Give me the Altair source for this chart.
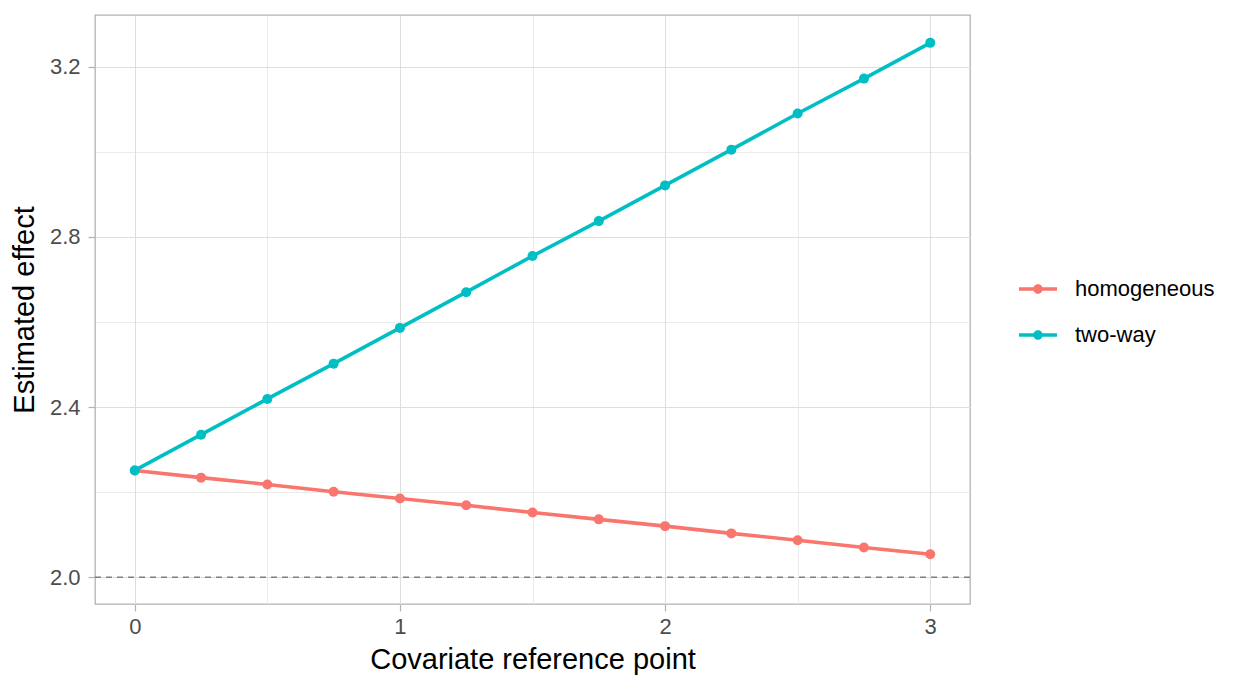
import altair as alt
import pandas as pd

x_vals = [0, 0.25, 0.5, 0.75, 1, 1.25, 1.5, 1.75, 2, 2.25, 2.5, 2.75, 3]
homogeneous = [2.251, 2.234, 2.218, 2.201, 2.185, 2.169, 2.152, 2.136, 2.120, 2.103, 2.087, 2.070, 2.054]
two_way = [2.251, 2.335, 2.419, 2.502, 2.586, 2.670, 2.755, 2.837, 2.921, 3.005, 3.090, 3.172, 3.256]
series_names = ["homogeneous", "two-way"]
series_colors = ["#F8766D", "#00BFC4"]
ref_line = [2.0]
x_breaks = [0, 0.5, 1, 1.5, 2, 2.5, 3]
y_breaks = [2.0, 2.2, 2.4, 2.6, 2.8, 3.0, 3.2]

rows = []
for name, vals in zip(series_names, [homogeneous, two_way]):
    for xv, yv in zip(x_vals, vals):
        rows.append({"x": xv, "value": yv, "series": name})
df = pd.DataFrame(rows)
ref_df = pd.DataFrame({"y": ref_line})

FONT = "Liberation Sans"
GRID = "#DEDEDE"

x_minor = "abs(round(datum.value*10) % 10) != 0"
y_minor = "abs(round(datum.value*10) % 4) != 0"

x_enc = alt.X(
    "x:Q",
    title="Covariate reference point",
    scale=alt.Scale(domain=[-0.15, 3.15], nice=False, zero=False),
    axis=alt.Axis(
        values=x_breaks,
        format="~g",
        labelExpr=f"{x_minor} ? '' : datum.label",
        tickOpacity={"condition": {"test": x_minor, "value": 0}, "value": 1},
        gridWidth={"condition": {"test": x_minor, "value": 0.6}, "value": 1},
    ),
)
y_enc = alt.Y(
    "value:Q",
    title="Estimated effect",
    scale=alt.Scale(domain=[1.937, 3.3215], nice=False, zero=False),
    axis=alt.Axis(
        values=y_breaks,
        format=".1f",
        labelExpr=f"{y_minor} ? '' : datum.label",
        tickOpacity={"condition": {"test": y_minor, "value": 0}, "value": 1},
        gridWidth={"condition": {"test": y_minor, "value": 0.6}, "value": 1},
    ),
)

legend_symbol = (
    "M-1,-0.09L1,-0.09L1,0.09L-1,0.09Z "
    "M0.25,0A0.25,0.25 0 1,1 -0.25,0A0.25,0.25 0 1,1 0.25,0Z"
)

color_enc = alt.Color(
    "series:N",
    scale=alt.Scale(domain=series_names, range=series_colors),
    legend=alt.Legend(
        title=None,
        orient="none",
        legendX=924,
        legendY=255,
        symbolType=legend_symbol,
        symbolSize=1444,
        symbolStrokeWidth=0,
        symbolOpacity=1,
        labelFontSize=22,
        labelFont=FONT,
        labelColor="#000000",
        labelOffset=18,
        labelLimit=300,
        rowPadding=16,
    ),
)

base = alt.Chart(df)
lines = base.mark_line(strokeWidth=3.6).encode(x=x_enc, y=y_enc, color=color_enc)
points = base.mark_circle(size=100, opacity=1).encode(x=x_enc, y=y_enc, color=color_enc)
hline = alt.Chart(ref_df).mark_rule(color="#7F7F7F", strokeDash=[6, 5], strokeWidth=1.5).encode(
    y=alt.Y("y:Q")
)

chart = (
    alt.layer(hline, lines, points)
    .properties(
        width=875,
        height=589,
        autosize=alt.AutoSizeParams(type="none"),
        padding={"left": 87, "top": 7, "right": 270, "bottom": 80},
    )
    .configure_view(stroke="#B3B3B3", strokeWidth=1.3)
    .configure_axis(
        domain=False,
        grid=True,
        gridColor=GRID,
        tickColor="#B3B3B3",
        tickSize=7,
        tickWidth=1.2,
        labelFont=FONT,
        labelFontSize=22,
        labelColor="#4D4D4D",
        titleFont=FONT,
        titleFontSize=29,
        titleFontWeight="normal",
        titleColor="#000000",
    )
    .configure_axisX(labelPadding=5, titlePadding=8)
    .configure_axisY(labelPadding=8, titlePadding=10, labelAngle=0)
)

chart.save("out.html", embed_options={"renderer": "svg", "actions": False})
